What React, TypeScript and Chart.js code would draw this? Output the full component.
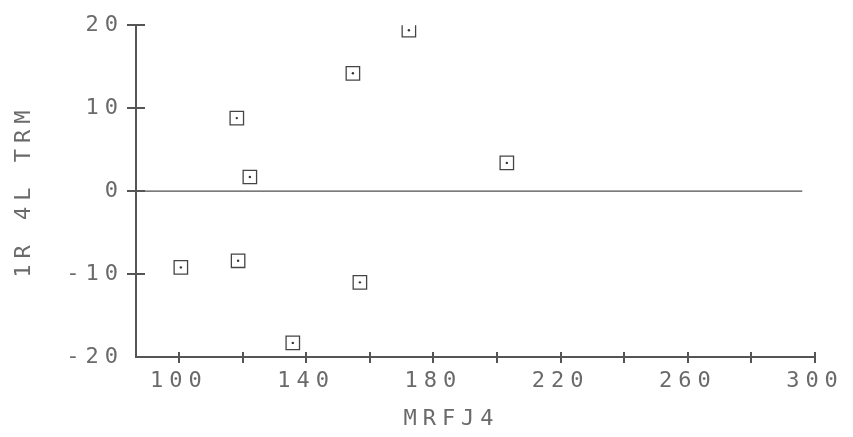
import React, { useEffect, useRef } from 'react';
import { Chart, registerables } from 'chart.js';

Chart.register(...registerables);

// ---- data ----
const xValues = [100.6, 118.2, 122.3, 118.6, 135.8, 154.7, 156.9, 172.3, 203.1];
const yValues = [-9.2, 8.8, 1.7, -8.4, -18.3, 14.2, -11.0, 19.4, 3.4];

const xTickValues = [100, 120, 140, 160, 180, 200, 220, 240, 260, 280, 300];
const xTickLabels = ['100', '', '140', '', '180', '', '220', '', '260', '', '300'];
const yTickValues = [-20, -10, 0, 10, 20];
const yTickLabels = ['-20', '-10', '0', '10', '20'];

const xAxisMin = 86.5;
const xAxisMax = 300;
const yAxisMin = -20;
const yAxisMax = 20;

const zeroLineX = [86.5, 296];
const zeroLineY = [0, 0];

const xTitle = 'MRFJ4';
const yTitle = '1R 4L TRM';

const FONT = '"DejaVu Sans Mono", monospace';
const FONT_SIZE = 22;
const SPACING = '6px';
const TEXT_COLOR = '#6a6a6a';
const AXIS_COLOR = '#555';

const spacingPlugin = {
  id: 'spacing',
  beforeDraw(chart: any) {
    (chart.ctx as any).letterSpacing = SPACING;
  },
};

const decorPlugin = {
  id: 'decor',
  afterDraw(chart: any) {
    const ctx = chart.ctx as CanvasRenderingContext2D;
    const xs = chart.scales.x;
    const ys = chart.scales.y;
    ctx.save();
    ctx.strokeStyle = AXIS_COLOR;
    ctx.lineWidth = 2;
    xs.ticks.forEach((t: any) => {
      const px = Math.round(xs.getPixelForValue(t.value));
      ctx.beginPath();
      ctx.moveTo(px, ys.bottom - 5);
      ctx.lineTo(px, ys.bottom + 6);
      ctx.stroke();
    });
    ys.ticks.forEach((t: any) => {
      if (t.value === yAxisMin) return;
      const py = Math.round(ys.getPixelForValue(t.value));
      ctx.beginPath();
      ctx.moveTo(xs.left - 9, py);
      ctx.lineTo(xs.left + 9, py);
      ctx.stroke();
    });
    // x-axis title
    (ctx as any).letterSpacing = SPACING;
    ctx.font = `${FONT_SIZE}px ${FONT}`;
    ctx.fillStyle = TEXT_COLOR;
    ctx.textAlign = 'center';
    ctx.textBaseline = 'middle';
    ctx.fillText(xTitle, (chart.chartArea.left + chart.chartArea.right) / 2 - 24, 419);
    ctx.restore();
  },
};

export default function App() {
  const canvasRef = useRef<HTMLCanvasElement | null>(null);

  useEffect(() => {
    document.body.style.margin = '0';
    const canvas = canvasRef.current;
    if (!canvas) return;

    const points = xValues.map((x, i) => ({ x, y: yValues[i] }));
    const zeroLine = zeroLineX.map((x, i) => ({ x, y: zeroLineY[i] }));

    const chart = new Chart(canvas, {
      type: 'scatter',
      data: {
        datasets: [
          {
            type: 'line',
            data: zeroLine,
            borderColor: '#222',
            borderWidth: 1,
            pointRadius: 0,
            showLine: true,
          } as any,
          {
            data: points,
            pointStyle: 'rect',
            pointRadius: 9.5,
            pointBorderColor: '#444',
            pointBackgroundColor: 'rgba(0,0,0,0)',
            pointBorderWidth: 1.3,
          } as any,
          {
            data: points,
            pointStyle: 'circle',
            pointRadius: 1.2,
            pointBorderWidth: 0,
            pointBackgroundColor: '#333',
          } as any,
        ],
      },
      options: {
        responsive: false,
        animation: false,
        layout: { padding: { left: 0, right: 38, top: 25, bottom: 0 } },
        plugins: {
          legend: { display: false },
          tooltip: { enabled: false },
        },
        scales: {
          x: {
            type: 'linear',
            min: xAxisMin,
            max: xAxisMax,
            grid: { display: false, drawTicks: false },
            border: { display: true, color: AXIS_COLOR, width: 2 },
            afterBuildTicks: (s: any) => {
              s.ticks = xTickValues.map((v) => ({ value: v }));
            },
            afterFit: (s: any) => {
              s.height = 80;
            },
            ticks: {
              autoSkip: false,
              maxRotation: 0,
              padding: 11,
              color: TEXT_COLOR,
              font: { family: FONT, size: FONT_SIZE },
              callback: (v: any) => {
                const i = xTickValues.indexOf(Number(v));
                return i >= 0 ? xTickLabels[i] : '';
              },
            },
          },
          y: {
            type: 'linear',
            min: yAxisMin,
            max: yAxisMax,
            grid: { display: false, drawTicks: false },
            border: { display: true, color: AXIS_COLOR, width: 2 },
            afterBuildTicks: (s: any) => {
              s.ticks = yTickValues.map((v) => ({ value: v }));
            },
            afterFit: (s: any) => {
              s.width = 136;
            },
            title: {
              display: true,
              text: yTitle,
              color: TEXT_COLOR,
              font: { family: FONT, size: FONT_SIZE },
              padding: { top: 11, bottom: 0 },
            },
            ticks: {
              autoSkip: false,
              padding: 12,
              color: TEXT_COLOR,
              font: { family: FONT, size: FONT_SIZE },
              callback: (v: any) => {
                const i = yTickValues.indexOf(Number(v));
                return i >= 0 ? yTickLabels[i] : '';
              },
            },
          },
        },
      },
      plugins: [spacingPlugin, decorPlugin],
    });

    return () => chart.destroy();
  }, []);

  return (
    <div style={{ width: 853, height: 437 }}>
      <canvas ref={canvasRef} width={853} height={437} />
    </div>
  );
}
